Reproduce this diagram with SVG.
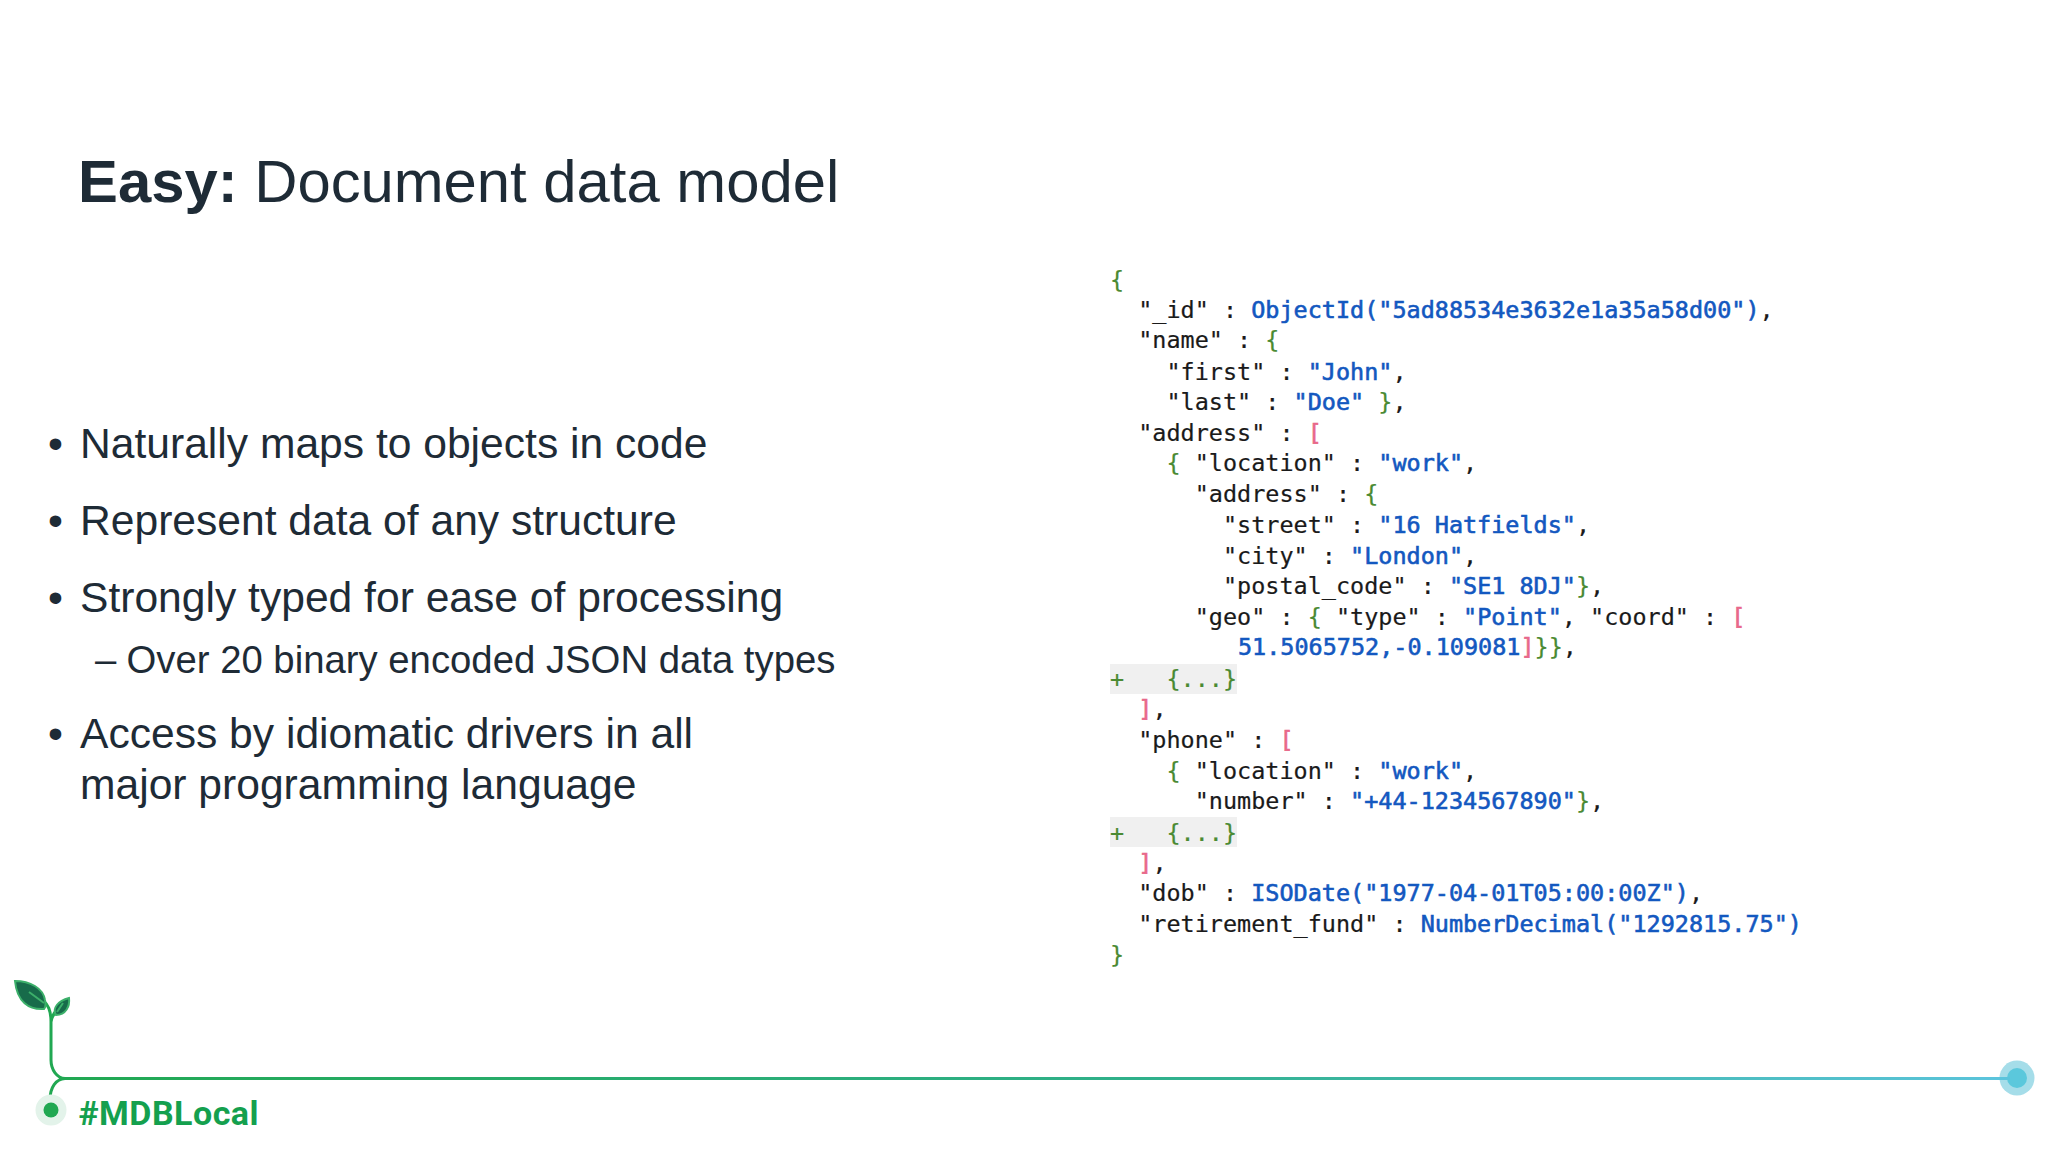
<svg xmlns="http://www.w3.org/2000/svg" width="2048" height="1152" viewBox="0 0 2048 1152">
<defs>
<linearGradient id="line" gradientUnits="userSpaceOnUse" x1="60" y1="0" x2="2017" y2="0"><stop offset="0" stop-color="#21a852"/><stop offset="0.55" stop-color="#2fb08a"/><stop offset="1" stop-color="#5bc4dc"/></linearGradient>
</defs>
<style>
text{white-space:pre}
.t{font-family:"Liberation Sans",Arial,sans-serif;fill:#1e2b36}
.b{font-size:42.6px}
.s{font-size:38.3px}
.c{font-family:"DejaVu Sans Mono","Liberation Mono",monospace;font-size:23.46px;fill:#1a1a1a;stroke:#1a1a1a;stroke-width:.2px}
.v{fill:#1358c0;stroke:#1358c0;stroke-width:.6px}
.g{fill:#4a8a32;stroke:#4a8a32;stroke-width:.2px}
.r{fill:#e8688a;stroke:#e8688a;stroke-width:.6px}
</style>
<rect width="2048" height="1152" fill="#fff"/>
<g id="title"><text class="t" x="78" y="202" font-size="59.8"><tspan font-weight="bold">Easy:</tspan> Document data model</text></g>
<g id="bullets">
<text class="t b" x="48" y="457.5">•</text><text class="t b" x="80" y="457.5">Naturally maps to objects in code</text>
<text class="t b" x="48" y="534.5">•</text><text class="t b" x="80" y="534.5">Represent data of any structure</text>
<text class="t b" x="48" y="611.5">•</text><text class="t b" x="80" y="611.5">Strongly typed for ease of processing</text>
<text class="t s" x="95" y="673">–</text><text class="t s" x="126.5" y="673">Over 20 binary encoded JSON data types</text>
<text class="t b" x="48" y="748">•</text><text class="t b" x="80" y="748">Access by idiomatic drivers in all</text>
<text class="t b" x="80" y="799">major programming language</text>
</g>
<g id="code">
<rect x="1110" y="664" width="127" height="30" fill="#f0f0f0"/>
<rect x="1110" y="817" width="127" height="30" fill="#f0f0f0"/>
<text class="c g" x="1110" y="287.5">{</text>
<text class="c" x="1110" y="318.2">  "_id" : <tspan class="v">ObjectId("5ad88534e3632e1a35a58d00")</tspan>,</text>
<text class="c" x="1110" y="348.4">  "name" : <tspan class="g">{</tspan></text>
<text class="c" x="1110" y="379.6">    "first" : <tspan class="v">"John"</tspan>,</text>
<text class="c" x="1110" y="410.3">    "last" : <tspan class="v">"Doe"</tspan> <tspan class="g">}</tspan>,</text>
<text class="c" x="1110" y="440.5">  "address" : <tspan class="r">[</tspan></text>
<text class="c" x="1110" y="471.4">    <tspan class="g">{</tspan> "location" : <tspan class="v">"work"</tspan>,</text>
<text class="c" x="1110" y="502">      "address" : <tspan class="g">{</tspan></text>
<text class="c" x="1110" y="533.3">        "street" : <tspan class="v">"16 Hatfields"</tspan>,</text>
<text class="c" x="1110" y="563.6">        "city" : <tspan class="v">"London"</tspan>,</text>
<text class="c" x="1110" y="594">        "postal_code" : <tspan class="v">"SE1 8DJ"</tspan><tspan class="g">}</tspan>,</text>
<text class="c" x="1110" y="625.2">      "geo" : <tspan class="g">{</tspan> "type" : <tspan class="v">"Point"</tspan>, "coord" : <tspan class="r">[</tspan></text>
<text class="c" x="1238" y="655.4"><tspan class="v">51.5065752,-0.109081</tspan><tspan class="r">]</tspan><tspan class="g">}}</tspan>,</text>
<text class="c g" x="1110" y="686.6">+   {...}</text>
<text class="c" x="1110" y="717.3">  <tspan class="r">]</tspan>,</text>
<text class="c" x="1110" y="747.6">  "phone" : <tspan class="r">[</tspan></text>
<text class="c" x="1110" y="778.7">    <tspan class="g">{</tspan> "location" : <tspan class="v">"work"</tspan>,</text>
<text class="c" x="1110" y="809.4">      "number" : <tspan class="v">"+44-1234567890"</tspan><tspan class="g">}</tspan>,</text>
<text class="c g" x="1110" y="840.6">+   {...}</text>
<text class="c" x="1110" y="870.8">  <tspan class="r">]</tspan>,</text>
<text class="c" x="1110" y="901">  "dob" : <tspan class="v">ISODate("1977-04-01T05:00:00Z")</tspan>,</text>
<text class="c" x="1110" y="932.2">  "retirement_fund" : <tspan class="v">NumberDecimal("1292815.75")</tspan></text>
<text class="c g" x="1110" y="962.9">}</text>
</g>
<g id="footer">
<path d="M62 1078.5H2017" fill="none" stroke="url(#line)" stroke-width="3"/>
<path d="M65 1078.5C57 1078 51 1070 51 1060V1022C51 1010 48 1005 43 1000M51 1022C52 1016 54 1012 59 1008M65 1078.5C56 1079 50 1087 50 1100" fill="none" stroke="#21a852" stroke-width="3"/>
<path d="M15 981C30 981 43 988 45 1000C46 1005 46 1007 44 1009C29 1010 17 1002 15 981Z" fill="#176b4a" stroke="#3cb06a" stroke-width="2"/>
<path d="M69 998C70 1006 66 1015 56 1015C52 1008 58 1001 69 998Z" fill="#176b4a" stroke="#3cb06a" stroke-width="2"/>
<path d="M29 992L44 1003M63 1003L57 1012" fill="none" stroke="#3cb06a" stroke-width="2"/>
<circle cx="51" cy="1110" r="15.5" fill="#e3f3ea"/>
<circle cx="51" cy="1110" r="7.5" fill="#21a852"/>
<circle cx="2017" cy="1078" r="17.5" fill="#a5dde9"/>
<circle cx="2017" cy="1078" r="10" fill="#5bc8dc"/>
<path d="M1980 1078.5H2010" stroke="#5bc4dc" stroke-width="3"/>
<text x="78.5" y="1125" font-family="Roboto,sans-serif" font-weight="bold" font-size="34" fill="#14a04e" textLength="180" lengthAdjust="spacing">#MDBLocal</text>
</g>
</svg>
